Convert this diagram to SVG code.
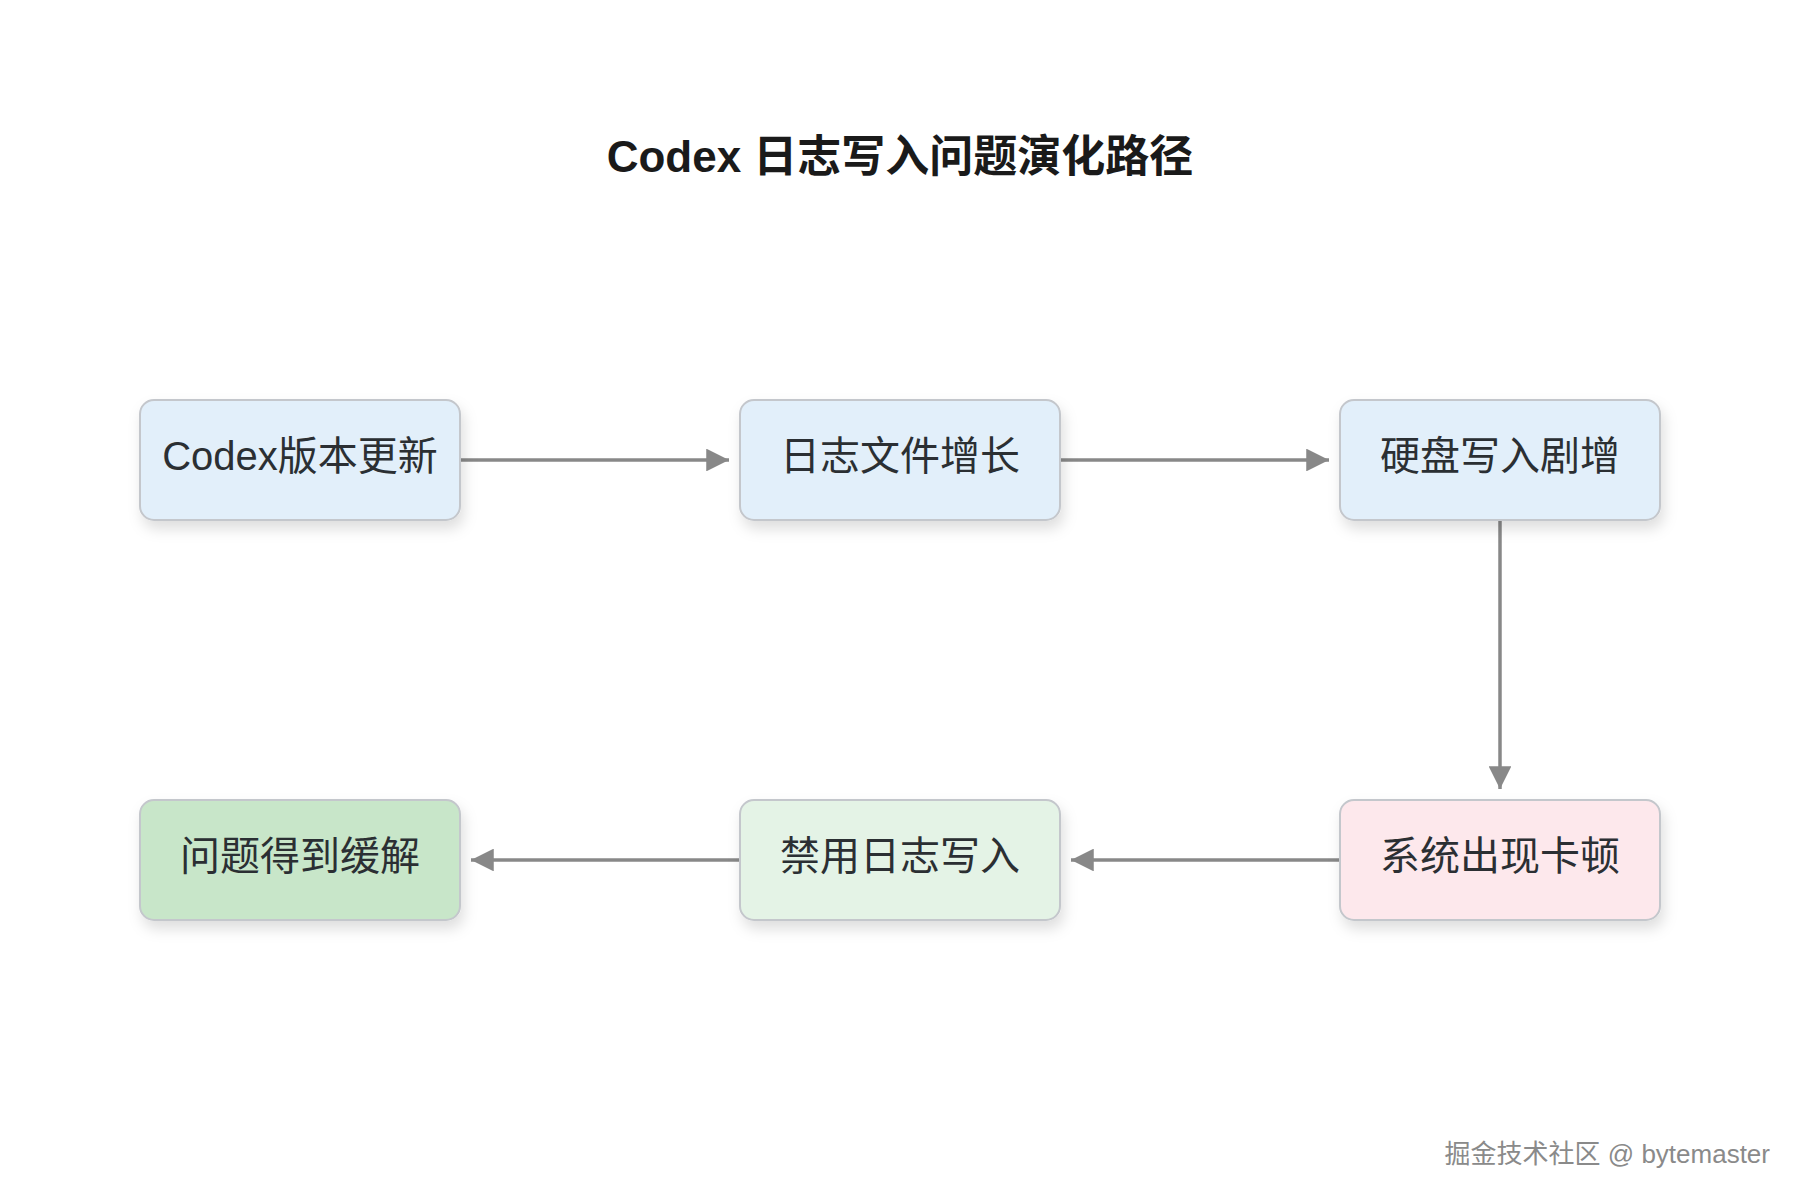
<svg xmlns="http://www.w3.org/2000/svg" width="1800" height="1200" viewBox="0 0 1800 1200">
<style>
.node rect{stroke:#c4c7cc;stroke-width:2}
.lbl{font-family:"Liberation Sans","Noto Sans CJK SC",sans-serif;font-size:40px;fill:#2b2f33;text-anchor:middle;dominant-baseline:central}
.edge{stroke:#888;stroke-width:3.5;fill:none}
.blue{fill:#e2effa}
.pink{fill:#fde8ec}
.lgreen{fill:#e4f3e6}
.green{fill:#c8e6c9}
</style>
<defs>
<filter id="sh" x="-20%" y="-20%" width="140%" height="160%">
<feDropShadow dx="3" dy="8" stdDeviation="7" flood-color="#000" flood-opacity="0.13"/>
</filter>
<marker id="ah" viewBox="0 0 10 10" refX="10" refY="5" markerWidth="6.5" markerHeight="6.5" markerUnits="strokeWidth" orient="auto">
<path d="M0,0 L10,5 L0,10 z" fill="#888"/>
</marker>
</defs>
<rect width="1800" height="1200" fill="#fff"/>
<text x="900" y="156" font-family="'Liberation Sans','Noto Sans CJK SC',sans-serif" font-size="44" font-weight="bold" fill="#1a1a1a" text-anchor="middle" dominant-baseline="central">Codex 日志写入问题演化路径</text>
<g id="edges">
<line class="edge" x1="461" y1="460" x2="729" y2="460" marker-end="url(#ah)"/>
<line class="edge" x1="1061" y1="460" x2="1329" y2="460" marker-end="url(#ah)"/>
<line class="edge" x1="1500" y1="521" x2="1500" y2="789" marker-end="url(#ah)"/>
<line class="edge" x1="1339" y1="860" x2="1071" y2="860" marker-end="url(#ah)"/>
<line class="edge" x1="739" y1="860" x2="471" y2="860" marker-end="url(#ah)"/>
</g>
<g id="n1" class="node"><rect class="blue" x="140" y="400" width="320" height="120" rx="14" filter="url(#sh)"/><text class="lbl" x="300" y="456">Codex版本更新</text></g>
<g id="n2" class="node"><rect class="blue" x="740" y="400" width="320" height="120" rx="14" filter="url(#sh)"/><text class="lbl" x="900" y="456">日志文件增长</text></g>
<g id="n3" class="node"><rect class="blue" x="1340" y="400" width="320" height="120" rx="14" filter="url(#sh)"/><text class="lbl" x="1500" y="456">硬盘写入剧增</text></g>
<g id="n4" class="node"><rect class="pink" x="1340" y="800" width="320" height="120" rx="14" filter="url(#sh)"/><text class="lbl" x="1500" y="856">系统出现卡顿</text></g>
<g id="n5" class="node"><rect class="lgreen" x="740" y="800" width="320" height="120" rx="14" filter="url(#sh)"/><text class="lbl" x="900" y="856">禁用日志写入</text></g>
<g id="n6" class="node"><rect class="green" x="140" y="800" width="320" height="120" rx="14" filter="url(#sh)"/><text class="lbl" x="300" y="856">问题得到缓解</text></g>
<text x="1770" y="1163" font-family="'Liberation Sans','Noto Sans CJK SC',sans-serif" font-size="26" fill="#8a8a8a" stroke="#fff" stroke-width="0.6" text-anchor="end" style="paint-order:stroke">掘金技术社区 @ bytemaster</text>
</svg>
